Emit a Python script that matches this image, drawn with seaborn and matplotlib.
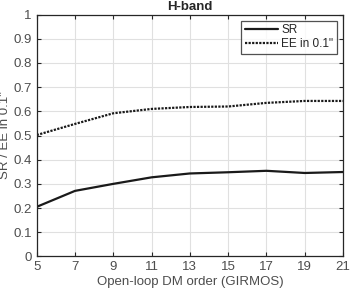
import numpy as np
import matplotlib
matplotlib.use('Agg')
import matplotlib.pyplot as plt
import seaborn as sns
import pandas as pd

dm_order = [5, 7, 9, 11, 13, 15, 17, 19, 21]
sr = [0.205, 0.271, 0.300, 0.327, 0.343, 0.348, 0.354, 0.345, 0.349]
ee = [0.502, 0.548, 0.592, 0.610, 0.618, 0.620, 0.635, 0.643, 0.643]

sns.set_style('whitegrid')
plt.rcParams['font.family'] = ['Liberation Sans', 'DejaVu Sans']

df = pd.DataFrame({'order': dm_order, 'SR': sr, 'EE in 0.1"': ee})
long = df.melt('order', var_name='metric', value_name='val')

fig, ax = plt.subplots(figsize=(3.5, 2.93), dpi=100)
sns.lineplot(data=long, x='order', y='val', style='metric', color='#1a1a1a',
             dashes={'SR': '', 'EE in 0.1"': (1, 0.6)}, linewidth=1.6, ax=ax)

ax.set_xlim(5, 21)
ax.set_ylim(0, 1)
ax.set_xticks(range(5, 22, 2))
ax.set_yticks(np.arange(0, 1.01, 0.1))
ax.set_yticklabels(['0', '0.1', '0.2', '0.3', '0.4', '0.5', '0.6', '0.7', '0.8', '0.9', '1'])
ax.grid(True, color='#e0e0e0', linewidth=0.8)
for s in ax.spines.values():
    s.set_color('#262626')
    s.set_linewidth(0.9)
ax.tick_params(direction='in', length=3, colors='#262626', labelcolor='#4d4d4d',
               labelsize=9.5, top=True, right=True, bottom=True, left=True)
ax.set_xlabel('Open-loop DM order (GIRMOS)', fontsize=9.5, color='#4d4d4d', labelpad=2)
ax.set_ylabel('SR / EE in 0.1"', fontsize=9.5, color='#4d4d4d', labelpad=2)
ax.set_title('H-band', fontsize=9.5, fontweight='bold', pad=3)

leg = ax.legend(loc='upper right', fontsize=8.5, frameon=True, fancybox=False,
                handlelength=2.8, handletextpad=0.3, borderpad=0.3, labelspacing=0.2)
leg.get_frame().set_edgecolor('#262626')
leg.get_frame().set_linewidth(0.9)
for t in leg.get_texts():
    t.set_color('#262626')

plt.subplots_adjust(left=0.105, right=0.98, top=0.95, bottom=0.125)
fig.savefig('out.png', dpi=100)
